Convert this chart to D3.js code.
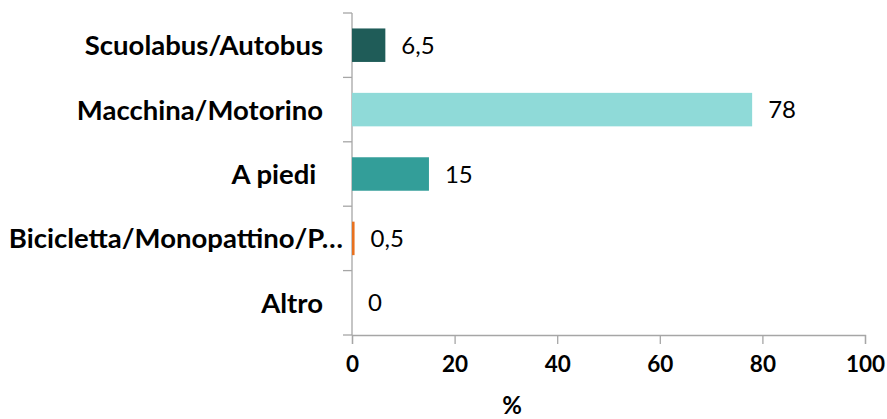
<!DOCTYPE html>
<html>
<head>
<meta charset="utf-8">
<script src="https://cdn.jsdelivr.net/npm/d3@7"></script>
<style>
  body { margin: 0; background: #fff; }
  text { font-family: Lato, "Open Sans", sans-serif; }
</style>
</head>
<body>
<div id="chart"></div>
<script>
// DATA
const categories = ["Scuolabus/Autobus", "Macchina/Motorino", "A piedi ", "Bicicletta/Monopattino/P…", "Altro"];
const values = [6.5, 78, 15, 0.5, 0];
const valueLabels = ["6,5", "78", "15", "0,5", "0"];
const barColors = ["#1f5c58", "#8fdad8", "#339e99", "#e8711f", "#4f81bd"];
const xTicks = [0, 20, 40, 60, 80, 100];
const xTitle = "%";

// SET GLOBAL VARIABLES
const W = 887, H = 419;
const margin = { top: 13, left: 352 };
const width = 865 - margin.left;
const height = 335 - margin.top;

const svg = d3.select("#chart")
    .append("svg")
    .attr("width", W)
    .attr("height", H)
    .append("g")
    .attr("transform", `translate(${margin.left},${margin.top})`);

const rows = categories.map((c, i) => ({ cat: c, value: values[i], label: valueLabels[i], color: barColors[i] }));

// Set scales
const x = d3.scaleLinear().domain([0, 100]).range([0, width]);
const y = d3.scaleBand().domain(categories).range([0, height]).paddingInner(0.48).paddingOuter(0.24);

const axisColor = "#a6a6a6";

// Y axis: ticks on band boundaries
svg.append("line")
    .attr("x1", 0).attr("x2", 0)
    .attr("y1", 0).attr("y2", height)
    .attr("stroke", axisColor).attr("stroke-width", 1.3);

const step = height / categories.length;
svg.selectAll(".ytick")
    .data(d3.range(categories.length + 1))
    .join("line")
    .attr("x1", -9).attr("x2", 0)
    .attr("y1", i => i * step).attr("y2", i => i * step)
    .attr("stroke", axisColor).attr("stroke-width", 1.3);

// X axis
const xAxis = svg.append("g")
    .attr("transform", `translate(0,${height})`)
    .call(d3.axisBottom(x).tickValues(xTicks).tickSize(9).tickPadding(12).tickFormat(d3.format("d")));
xAxis.select(".domain").attr("stroke", axisColor).attr("stroke-width", 1.3);
xAxis.selectAll(".tick line").attr("stroke", axisColor).attr("stroke-width", 1.3);
xAxis.selectAll(".tick text")
    .attr("font-family", "Lato, sans-serif")
    .attr("font-size", 22.5)
    .attr("font-weight", "bold")
    .attr("fill", "#000");

// Bars
svg.selectAll(".bar")
    .data(rows)
    .join("rect")
    .attr("x", 0)
    .attr("y", d => y(d.cat))
    .attr("width", d => x(d.value))
    .attr("height", y.bandwidth())
    .attr("fill", d => d.color);

// Value labels
svg.selectAll(".val")
    .data(rows)
    .join("text")
    .attr("x", d => x(d.value) + 16)
    .attr("y", d => y(d.cat) + y.bandwidth() / 2)
    .attr("dy", "0.36em")
    .attr("font-size", 24)
    .attr("fill", "#000")
    .text(d => d.label);

// Category labels
svg.selectAll(".cat")
    .data(rows)
    .join("text")
    .attr("x", d => d.cat.endsWith("…") ? -9 : -29)
    .attr("y", d => y(d.cat) + y.bandwidth() / 2)
    .attr("dy", "0.36em")
    .attr("text-anchor", "end")
    .attr("font-size", 27.5)
    .attr("font-weight", "bold")
    .style("white-space", "pre")
    .attr("fill", "#000")
    .text(d => d.cat);

// Axis title
svg.append("text")
    .attr("x", x(31.2))
    .attr("y", height + 70)
    .attr("dy", "0.36em")
    .attr("text-anchor", "middle")
    .attr("font-size", 24)
    .attr("font-weight", "bold")
    .text(xTitle);
</script>
</body>
</html>
